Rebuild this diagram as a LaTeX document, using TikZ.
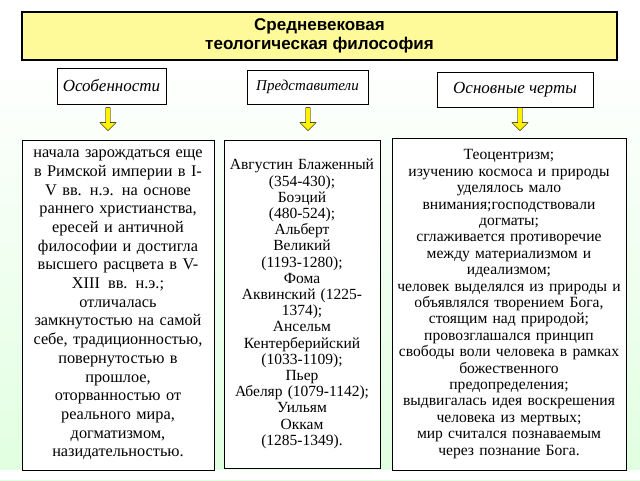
\documentclass[tikz,border=0pt]{standalone}
\usepackage{fontspec}
\setmainfont{Liberation Serif}
\newfontfamily\headfont{Liberation Sans}
\usetikzlibrary{shapes.arrows}
\begin{document}
\begin{tikzpicture}[x=1pt,y=-1pt]
    \tikzstyle{title}=[draw=black,line width=1.2pt,fill=yellow!40,align=center,font=\headfont\bfseries\fontsize{17}{19}\selectfont]
    \tikzstyle{head}=[draw=black,line width=0.9pt,fill=white,align=center,font=\itshape\fontsize{17}{19}\selectfont]
    \tikzstyle{body}=[draw=black,line width=0.9pt,fill=white,align=center,inner sep=1pt]
    \tikzstyle{down}=[single arrow,draw=black,fill=yellow,shape border rotate=270,minimum height=23pt,minimum width=16pt,single arrow head extend=3pt,inner sep=1pt]

    \useasboundingbox (0,0) rectangle (640,480);
    \shade[top color=white,bottom color=green!12] (0,60) rectangle (640,480);
    \fill[white] (0,470) rectangle (640,480);

    \node[title,minimum width=595pt,minimum height=48pt] (title) at (319.5,36) {Средневековая\\теологическая философия};

    \node[head,minimum width=109pt,minimum height=36pt] (feat) at (111.5,86) {Особенности};
    \node[head,minimum width=121pt,minimum height=34pt,font=\itshape\fontsize{15}{17}\selectfont] (repr) at (307.5,87) {Представители};
    \node[head,minimum width=156pt,minimum height=35pt] (trait) at (515,89.5) {Основные черты};

    \node[down] (afeat) at (108,118) {};
    \node[down] (arepr) at (308,118) {};
    \node[down] (atrait) at (520,118) {};

    \node[body,minimum width=192pt,minimum height=330pt,text width=190pt,font=\fontsize{16.3}{18.7}\selectfont] (featbox) at (118,305) {начала зарождаться еще\\в Римской империи в I-\\V вв. н.э. на основе\\раннего христианства,\\ересей и античной\\философии и достигла\\высшего расцвета в V-\\XIII\, вв. н.э.;\\отличалась\\замкнутостью на самой\\себе, традиционностью,\\повернутостью в\\прошлое,\\оторванностью от\\реального мира,\\догматизмом,\\назидательностью.};

    \node[body,minimum width=156pt,minimum height=328pt,text width=154pt,font=\fontsize{15.5}{16.2}\selectfont] (reprbox) at (302,304) {Августин Блаженный\\(354-430);\\Боэций\\(480-524);\\Альберт\\Великий\\(1193-1280);\\Фома\\Аквинский (1225-\\1374);\\Ансельм\\Кентерберийский\\(1033-1109);\\Пьер\\Абеляр (1079-1142);\\Уильям\\Оккам\\(1285-1349).};

    \node[body,minimum width=234pt,minimum height=332pt,text width=232pt,font=\fontsize{15.6}{16.4}\selectfont] (traitbox) at (509,304) {Теоцентризм;\\изучению космоса и природы\\уделялось мало\\внимания;господствовали\\догматы;\\сглаживается противоречие\\между материализмом и\\идеализмом;\\человек выделялся из природы и\\объявлялся творением Бога,\\стоящим над природой;\\провозглашался принцип\\свободы воли человека в рамках\\божественного\\предопределения;\\выдвигалась идея воскрешения\\человека из мертвых;\\мир считался познаваемым\\через познание Бога.};
\end{tikzpicture}
\end{document}
